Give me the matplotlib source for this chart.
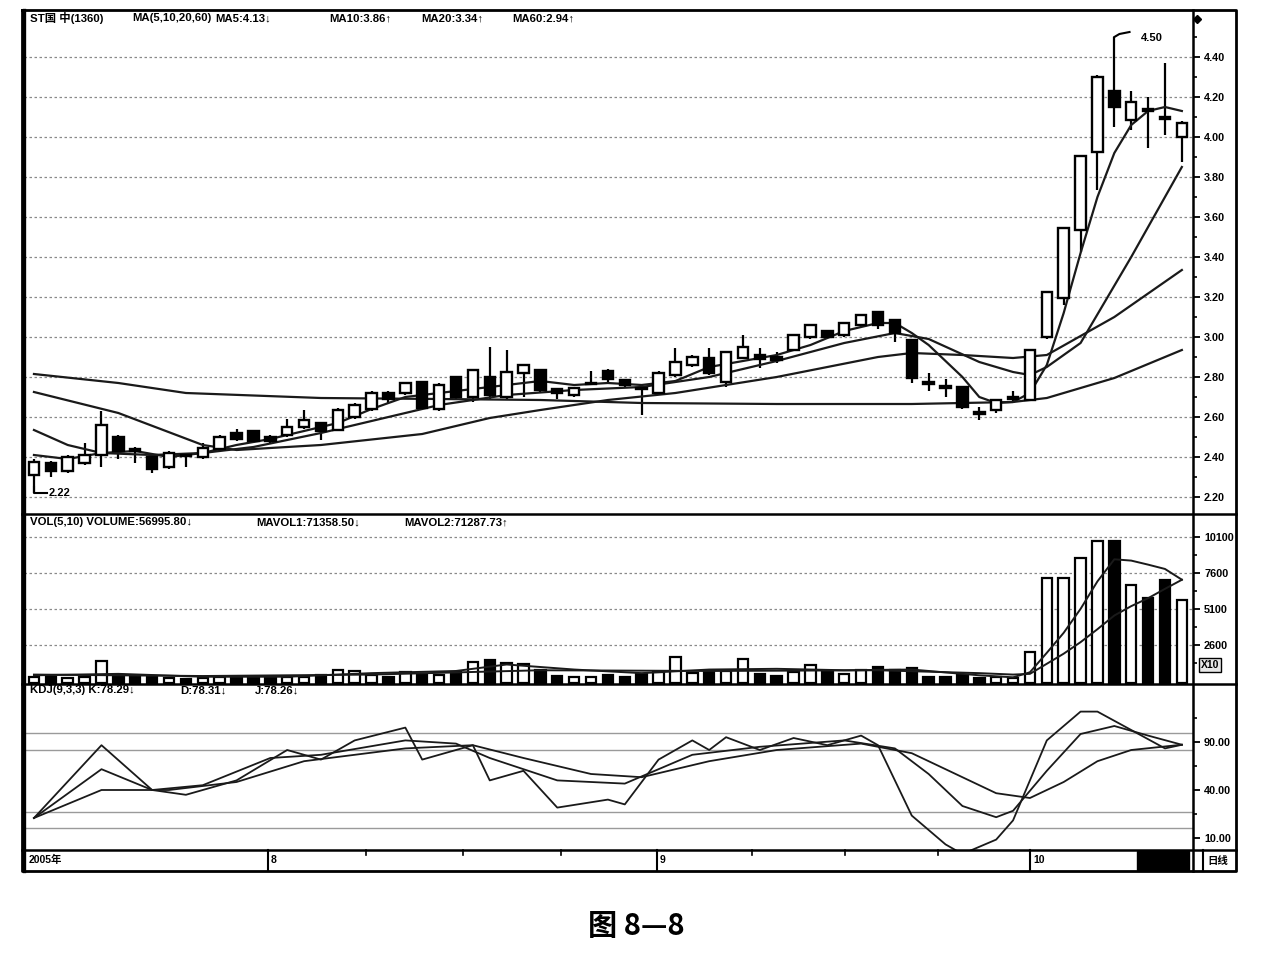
import numpy as np
import matplotlib
matplotlib.use("Agg")
from matplotlib import pyplot as plt
from matplotlib.patches import Rectangle

plt.rcParams['font.family'] = ['Liberation Sans', 'DejaVu Sans', 'Noto Sans CJK SC']

# daily candles
opens = [2.31, 2.37, 2.33, 2.37, 2.41, 2.50, 2.44, 2.40, 2.35, 2.41,
         2.40, 2.44, 2.52, 2.53, 2.50, 2.51, 2.55, 2.57, 2.535, 2.60,
         2.64, 2.72, 2.72, 2.775, 2.64, 2.80, 2.70, 2.80, 2.70, 2.82,
         2.835, 2.74, 2.71, 2.765, 2.83, 2.785, 2.745, 2.72, 2.81, 2.86,
         2.895, 2.775, 2.895, 2.91, 2.90, 2.935, 3.00, 3.03, 3.01, 3.06,
         3.125, 3.085, 2.985, 2.775, 2.755, 2.75, 2.625, 2.635, 2.69, 2.685,
         3.00, 3.195, 3.535, 3.925, 4.23, 4.085, 4.14, 4.10, 4.00]
highs = [2.39, 2.38, 2.41, 2.47, 2.63, 2.51, 2.45, 2.41, 2.43, 2.415,
         2.47, 2.51, 2.54, 2.53, 2.51, 2.59, 2.635, 2.575, 2.645, 2.67,
         2.73, 2.73, 2.775, 2.78, 2.77, 2.80, 2.84, 2.95, 2.935, 2.865,
         2.84, 2.745, 2.75, 2.83, 2.84, 2.79, 2.76, 2.83, 2.945, 2.91,
         2.945, 2.93, 3.01, 2.945, 2.925, 3.015, 3.065, 3.035, 3.075, 3.115,
         3.13, 3.09, 2.99, 2.82, 2.79, 2.755, 2.65, 2.69, 2.73, 2.94,
         3.23, 3.55, 3.91, 4.31, 4.50, 4.23, 4.20, 4.37, 4.08]
lows = [2.22, 2.30, 2.32, 2.36, 2.35, 2.39, 2.37, 2.32, 2.34, 2.35,
        2.39, 2.43, 2.48, 2.47, 2.47, 2.50, 2.54, 2.485, 2.53, 2.59,
        2.63, 2.67, 2.71, 2.64, 2.63, 2.69, 2.675, 2.69, 2.69, 2.70,
        2.72, 2.69, 2.70, 2.76, 2.77, 2.745, 2.61, 2.71, 2.80, 2.85,
        2.81, 2.75, 2.89, 2.845, 2.87, 2.93, 2.99, 2.99, 3.00, 3.05,
        3.04, 2.975, 2.77, 2.73, 2.70, 2.64, 2.585, 2.62, 2.68, 2.68,
        2.99, 3.16, 3.425, 3.735, 4.05, 4.035, 3.945, 4.01, 3.875]
closes = [2.375, 2.33, 2.40, 2.41, 2.56, 2.43, 2.43, 2.34, 2.42, 2.405,
          2.445, 2.50, 2.49, 2.48, 2.48, 2.55, 2.585, 2.53, 2.635, 2.66,
          2.72, 2.69, 2.77, 2.645, 2.76, 2.70, 2.835, 2.71, 2.825, 2.86,
          2.735, 2.72, 2.745, 2.77, 2.79, 2.76, 2.74, 2.82, 2.875, 2.90,
          2.82, 2.925, 2.95, 2.89, 2.885, 3.01, 3.06, 3.00, 3.07, 3.11,
          3.06, 3.02, 2.795, 2.765, 2.745, 2.65, 2.615, 2.685, 2.70, 2.935,
          3.225, 3.545, 3.905, 4.30, 4.15, 4.175, 4.13, 4.09, 4.07]
volumes = [350, 400, 300, 350, 1500, 500, 350, 400, 300, 250,
           300, 350, 400, 400, 300, 350, 400, 500, 850, 800,
           550, 400, 700, 600, 550, 700, 1400, 1550, 1350, 1300,
           900, 450, 400, 350, 550, 400, 600, 700, 1750, 650,
           800, 800, 1600, 600, 450, 700, 1200, 700, 600, 900,
           1100, 900, 1000, 400, 350, 500, 300, 350, 300, 2120,
           7250, 7250, 8640, 9820, 9820, 6770, 5860, 7110, 5700]

# moving averages (candle index, value)
ma5_idx = [0, 2, 4, 6, 8, 10, 12, 14, 16, 18, 20, 22, 24, 26, 28, 30, 32, 34, 36, 38,
           40, 42, 44, 46, 48, 50, 51, 52, 53, 54, 55, 56, 57, 58, 59, 60, 61, 62, 63,
           64, 65, 66, 67, 68]
ma5_val = [2.41, 2.39, 2.42, 2.43, 2.40, 2.42, 2.46, 2.49, 2.53, 2.57,
           2.64, 2.70, 2.72, 2.74, 2.76, 2.78, 2.76, 2.77, 2.76, 2.78,
           2.85, 2.88, 2.91, 2.96, 3.03, 3.07, 3.07, 3.02, 2.96, 2.88,
           2.80, 2.70, 2.67, 2.675, 2.72, 2.86, 3.12, 3.42, 3.70, 3.92,
           4.06, 4.13, 4.15, 4.13]
ma10_idx = [0, 2, 4, 7, 10, 13, 17, 20, 24, 28, 32, 36, 40, 44, 48, 51, 53, 56, 58, 59, 60, 62, 65, 68]
ma10_val = [2.535, 2.46, 2.42, 2.41, 2.42, 2.45, 2.52, 2.58, 2.66, 2.71, 2.735, 2.75,
            2.80, 2.88, 2.97, 3.02, 2.99, 2.875, 2.825, 2.81, 2.85, 2.97, 3.40, 3.85]
ma20_idx = [0, 5, 10, 12, 15, 17, 23, 27, 30, 34, 38, 44, 50, 52, 55, 58, 60, 64, 68]
ma20_val = [2.725, 2.62, 2.46, 2.435, 2.45, 2.46, 2.515, 2.595, 2.635, 2.685,
            2.72, 2.80, 2.90, 2.92, 2.91, 2.895, 2.91, 3.10, 3.335]
ma60_idx = [0, 5, 9, 17, 24, 30, 36, 44, 52, 58, 60, 64, 68]
ma60_val = [2.815, 2.77, 2.72, 2.695, 2.69, 2.685, 2.67, 2.665, 2.665, 2.675, 2.695, 2.795, 2.935]

mavol1_idx = [0, 5, 10, 15, 20, 25, 28, 32, 36, 40, 44, 48, 52, 56, 58, 59, 60, 61, 62, 63, 64, 65, 66, 67, 68]
mavol1_val = [500, 600, 400, 400, 650, 800, 1250, 900, 650, 900, 950, 850, 900, 500, 360,
              710, 2060, 3450, 5110, 7020, 8550, 8460, 8180, 7880, 7136]
mavol2_idx = [0, 10, 20, 30, 40, 50, 56, 58, 59, 60, 61, 62, 63, 64, 65, 66, 67, 68]
mavol2_val = [550, 450, 550, 850, 800, 850, 650, 550, 600, 1300, 2000, 2800, 3700, 4650,
              5300, 5850, 6500, 7129]

k_idx = [0, 4, 7, 10, 14, 17, 22, 25, 27, 31, 35, 39, 43, 48, 51, 53, 55, 57, 58, 60, 62, 64, 66, 68]
k_val = [32.5, 63, 50, 53, 70, 72, 81, 79, 70, 56, 54, 72, 77, 81, 76, 60, 40, 33, 37, 62,
         85, 90, 84, 78.29]
d_idx = [0, 4, 8, 12, 16, 22, 26, 29, 33, 36, 40, 44, 49, 52, 55, 57, 59, 61, 63, 65, 68]
d_val = [32.5, 50, 50, 55, 68, 76, 78, 70, 60, 58, 68, 75, 79, 73, 58, 48, 45, 55, 68, 75, 78.31]
j_idx = [0, 4, 7, 9, 12, 15, 17, 19, 22, 23, 25, 26, 27, 29, 31, 34, 35, 37, 39, 40,
         41, 43, 45, 47, 49, 50, 52, 54, 55, 57, 58, 60, 62, 63, 65, 67, 68]
j_val = [32.5, 78, 50, 47, 56, 75, 69, 81, 89, 69, 75, 78, 56, 62, 39, 44, 41, 69, 81, 75,
         83, 75, 82.5, 78, 84, 78, 34, 16, 10, 19, 31, 81, 99, 99, 87.5, 76, 78.26]

price_ticks = [2.2, 2.4, 2.6, 2.8, 3.0, 3.2, 3.4, 3.6, 3.8, 4.0, 4.2, 4.4]
vol_ticks = [2600, 5100, 7600, 10100]
kdj_ticks = [20, 50, 80]
kdj_labels = ['10.00', '40.00', '90.00']
month_pos = [268, 657, 1030]
month_labels = ['8', '9', '10']

W, H = 1280, 956
fig = plt.figure(figsize=(12.8, 9.56), dpi=100)


def rect(top, bottom):
    return [24 / W, 1 - bottom / H, (1193 - 24) / W, (bottom - top) / H]


x = np.arange(len(opens))
o, h, l, c = map(np.array, (opens, highs, lows, closes))
up = c >= o
XL = (-0.59, 68.66)


def style(ax):
    ax.set_xlim(*XL)
    ax.set_xticks([])
    for s in ax.spines.values():
        s.set_visible(False)
    ax.yaxis.tick_right()
    ax.tick_params(axis='y', direction='out', length=5, width=1.3, pad=3,
                   labelsize=7.8, colors='black')
    for t in ax.get_yticklabels():
        t.set_fontweight('bold')


# ---- price panel ----
ax_p = fig.add_axes(rect(12, 514))
ax_p.set_ylim(2.115, 4.625)
ax_p.set_yticks(price_ticks)
ax_p.set_yticklabels(['%.2f' % v for v in price_ticks])
ax_p.set_yticks(np.arange(2.2, 4.6, 0.1), minor=True)
ax_p.tick_params(axis='y', which='minor', direction='out', length=3, width=1.2)
style(ax_p)
for v in price_ticks:
    ax_p.axhline(v, color='#8a8a8a', lw=0.9, ls=(0, (2, 2)), zorder=1)

ax_p.vlines(x, l, h, color='k', lw=1.6, zorder=3)
body_b = np.minimum(o, c)
body_h = np.maximum(np.abs(c - o), 0.007)
ax_p.bar(x[up], body_h[up], 0.62, body_b[up], facecolor='white', edgecolor='k', lw=1.7, zorder=4)
ax_p.bar(x[~up], body_h[~up], 0.62, body_b[~up], facecolor='k', edgecolor='k', lw=1.7, zorder=4)

for ix, vals in [(ma5_idx, ma5_val), (ma10_idx, ma10_val), (ma20_idx, ma20_val), (ma60_idx, ma60_val)]:
    ax_p.plot(ix, vals, color='#1a1a1a', lw=1.6, zorder=3.5)

# low / high markers
ax_p.plot([0, 0, 0.75], [lows[0] + 0.03, 2.22, 2.22], color='k', lw=1.5, zorder=5)
ax_p.text(0.85, 2.22, '2.22', fontsize=8, fontweight='bold', va='center', ha='left')
ax_p.plot([64, 64.3, 64.9], [4.50, 4.515, 4.525], color='k', lw=1.5, zorder=5)
ax_p.text(65.6, 4.495, '4.50', fontsize=8, fontweight='bold', va='center', ha='left')

# ---- volume panel ----
ax_v = fig.add_axes(rect(514, 684))
ax_v.set_ylim(-104, 11694)
ax_v.set_yticks(vol_ticks)
ax_v.set_yticklabels([str(v) for v in vol_ticks])
ax_v.set_yticks([1350, 3850, 6350, 8850], minor=True)
ax_v.tick_params(axis='y', which='minor', direction='out', length=3, width=1.2)
style(ax_v)
for v in vol_ticks:
    ax_v.axhline(v, color='#8a8a8a', lw=0.9, ls=(0, (2, 2)), zorder=1)
vol = np.array(volumes)
ax_v.bar(x[up], vol[up], 0.62, 0, facecolor='white', edgecolor='k', lw=1.6, zorder=3)
ax_v.bar(x[~up], vol[~up], 0.62, 0, facecolor='k', edgecolor='k', lw=1.6, zorder=3)
ax_v.plot(mavol1_idx, mavol1_val, color='#1a1a1a', lw=1.4, zorder=4)
ax_v.plot(mavol2_idx, mavol2_val, color='#1a1a1a', lw=1.4, zorder=4)

# ---- KDJ panel ----
ax_k = fig.add_axes(rect(684, 850))
ax_k.set_ylim(12.5, 116.25)
ax_k.set_yticks(kdj_ticks)
ax_k.set_yticklabels(kdj_labels)
ax_k.set_yticks([35, 65, 95], minor=True)
ax_k.tick_params(axis='y', which='minor', direction='out', length=3, width=1.2)
style(ax_k)
for v in [85.6, 75, 36.25, 26.25]:
    ax_k.axhline(v, color='#9a9a9a', lw=1.0, zorder=1)
ax_k.plot(k_idx, k_val, color='#1a1a1a', lw=1.3)
ax_k.plot(d_idx, d_val, color='#1a1a1a', lw=1.3)
ax_k.plot(j_idx, j_val, color='#1a1a1a', lw=1.3)

# ---- frame, headers, date row, caption ----
ov = fig.add_axes([0, 0, 1, 1], zorder=10)
ov.set_xlim(0, W)
ov.set_ylim(H, 0)
ov.axis('off')
ov.patch.set_alpha(0)
ov.plot([22, 1236, 1236, 22, 22], [10, 10, 871, 871, 10], color='k', lw=2)
for yy in [514, 684, 850]:
    ov.plot([22, 1236], [yy, yy], color='k', lw=1.8)
ov.plot([24, 24], [10, 871], color='k', lw=2.4)
ov.plot([1193, 1193], [10, 871], color='k', lw=1.8)
ov.plot(1197, 19, marker='D', color='k', ms=4)

hdr = dict(fontsize=8.2, fontweight='bold', va='center', ha='left')
ov.text(30, 18, 'ST国 中(1360)', family=['Liberation Sans', 'Noto Sans CJK SC'], **hdr)
ov.text(132, 18, 'MA(5,10,20,60)', **hdr)
ov.text(215, 18, 'MA5:4.13↓', **hdr)
ov.text(329, 18, 'MA10:3.86↑', **hdr)
ov.text(421, 18, 'MA20:3.34↑', **hdr)
ov.text(512, 18, 'MA60:2.94↑', **hdr)

ov.text(30, 522, 'VOL(5,10) VOLUME:56995.80↓', **hdr)
ov.text(256, 522, 'MAVOL1:71358.50↓', **hdr)
ov.text(404, 522, 'MAVOL2:71287.73↑', **hdr)

ov.text(30, 690, 'KDJ(9,3,3) K:78.29↓', **hdr)
ov.text(180, 690, 'D:78.31↓', **hdr)
ov.text(255, 690, 'J:78.26↓', **hdr)

ov.text(1210, 665, 'X10', fontsize=7.5, fontweight='bold', ha='center', va='center',
        bbox=dict(boxstyle='square,pad=0.15', fc='#e8e8e8', ec='k', lw=1))

ov.text(29, 860, '2005年', fontsize=7.5, fontweight='bold', va='center', ha='left',
        family=['Liberation Sans', 'Noto Sans CJK SC'])
for px, lab in zip(month_pos, month_labels):
    ov.plot([px, px], [850, 870], color='k', lw=1.5)
    ov.text(px + 3, 860, lab, fontsize=7.5, fontweight='bold', va='center', ha='left')
for px in [366, 463, 561, 752, 845, 938]:
    ov.plot([px, px], [850, 855], color='k', lw=1.2)
ov.add_patch(Rectangle((1137, 851), 52, 19, color='k'))
ov.plot([1203, 1203], [850, 871], color='k', lw=1.5)
ov.text(1218, 861, '日线', fontsize=7.5, fontweight='bold', va='center', ha='center',
        family=['Noto Sans CJK SC', 'DejaVu Sans'])

ov.text(636, 926, '图 8—8', fontsize=21, fontweight='bold', ha='center', va='center',
        family=['Noto Sans CJK SC', 'DejaVu Sans'])

fig.savefig('out.png', dpi=100, facecolor='white')
